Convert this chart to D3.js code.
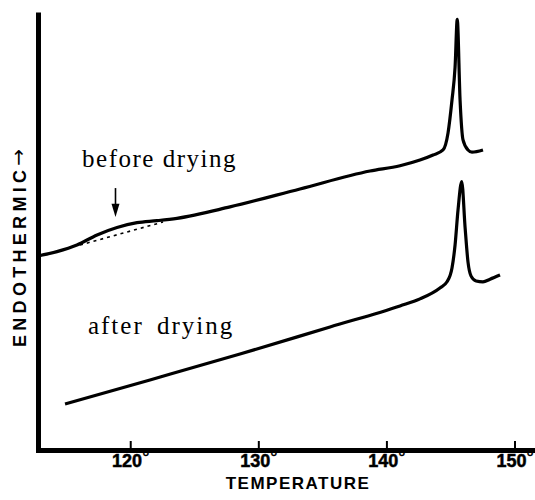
<!DOCTYPE html>
<html>
<head>
<meta charset="utf-8">
<script src="https://cdn.jsdelivr.net/npm/d3@7"></script>
<style>
  body { margin: 0; background: #fff; }
  .tick text { font-family: "Liberation Sans", Arial, sans-serif; font-size: 18px; font-weight: bold; }
</style>
</head>
<body>
<script>
// DSC traces, temperature in degrees C, endotherm in arbitrary units
const beforeTemp = [112.8, 114.28, 115.84, 117.41, 118.97, 120.53, 122.09, 123.65, 127.79, 133.25,
    138.72, 141.06, 142.62, 143.64, 144.42, 144.81, 145.12, 145.36, 145.53, 145.75,
    145.98, 146.37, 146.68, 147.54]
const beforeHeat = [44.3, 45.3, 46.8, 49.1, 50.8, 51.9, 52.35, 52.9, 55.5, 59.6,
    63.7, 64.9, 66.2, 67.35, 68.5, 72.4, 79.9, 87.4, 98.3, 79.9,
    70.8, 68.5, 68.0, 68.5]

// dotted baseline under the bump
const baseTemp = [116.08, 122.56]
const baseHeat = [46.8, 52.05]

const afterTemp = [114.91, 121.54, 128.57, 135.6, 141.06, 142.62, 144.18, 144.73, 145.12, 145.36,
    145.59, 145.88, 146.14, 146.37, 146.61, 147.0, 147.54, 148.09, 148.87]
const afterHeat = [10.5, 16.0, 21.9, 28.1, 32.9, 34.5, 37.0, 38.4, 41.55, 46.8,
    54.8, 61.3, 50.9, 42.9, 39.7, 38.6, 38.4, 39.0, 39.95]

const tickTemps = [120, 130, 140, 150]

// measurements
const m = {
    width: 535,
    height: 500,
    left: 38,
    right: 535,
    top: 12,
    bottom: 450
}

const sans = '"Liberation Sans", Arial, sans-serif'
const serif = '"Liberation Serif", "Times New Roman", serif'

const svg = d3.select('body').append('svg')
    .attr('width', m.width)
    .attr('height', m.height)

const x = d3.scaleLinear()
    .domain([112.8, 151.6])
    .range([m.left, m.right])

const y = d3.scaleLinear()
    .domain([0, 100])
    .range([m.bottom, m.top])

// axes - thick lines, ticks point up into the plot
const xAxis = d3.axisBottom(x)
    .tickValues(tickTemps)
    .tickSizeInner(-9)
    .tickSizeOuter(0)
    .tickPadding(4)
    .tickFormat(d => d)

const gx = svg.append('g')
    .attr('transform', `translate(0,${y(0)})`)
    .call(xAxis)
    .attr('font-family', sans)
    .attr('font-size', 18)
    .attr('font-weight', 'bold')

gx.select('.domain')
    .attr('stroke', '#000')
    .attr('stroke-width', 5)
    .attr('stroke-linecap', 'square')
gx.selectAll('.tick line')
    .attr('stroke', '#000')
    .attr('stroke-width', 2)
gx.selectAll('.tick text')
    .attr('fill', '#000')
    .attr('stroke', '#000')
    .attr('stroke-width', 0.5)
    .append('tspan')
    .attr('dy', -4)
    .attr('stroke-width', 0.2)
    .text('°')

const gy = svg.append('g')
    .attr('transform', `translate(${m.left},0)`)
    .call(d3.axisLeft(y).ticks(0).tickSizeOuter(0))
gy.select('.domain')
    .attr('stroke', '#000')
    .attr('stroke-width', 5)

// traces
const line = d3.line()
    .x(d => x(d[0]))
    .y(d => y(d[1]))
    .curve(d3.curveMonotoneX)

svg.append('path')
    .datum(d3.zip(beforeTemp, beforeHeat))
    .attr('d', line)
    .attr('fill', 'none')
    .attr('stroke', '#000')
    .attr('stroke-width', 3.2)
    .attr('stroke-linejoin', 'round')

svg.append('path')
    .datum(d3.zip(baseTemp, baseHeat))
    .attr('d', line)
    .attr('fill', 'none')
    .attr('stroke', '#000')
    .attr('stroke-width', 1.6)
    .attr('stroke-dasharray', '3,4')

svg.append('path')
    .datum(d3.zip(afterTemp, afterHeat))
    .attr('d', line)
    .attr('fill', 'none')
    .attr('stroke', '#000')
    .attr('stroke-width', 3.2)
    .attr('stroke-linejoin', 'round')

// arrow pointing at the bump
const ax = x(118.85)
svg.append('line')
    .attr('x1', ax).attr('x2', ax)
    .attr('y1', y(59.8)).attr('y2', y(55.5))
    .attr('stroke', '#000')
    .attr('stroke-width', 1.6)
svg.append('path')
    .attr('d', `M${ax - 4},${y(56.2)}L${ax + 4},${y(56.2)}L${ax},${y(53.2)}Z`)
    .attr('fill', '#000')

// trace labels
svg.append('text')
    .attr('x', x(116.24))
    .attr('y', y(64.6))
    .style('font-family', serif)
    .style('font-size', '25px')
    .style('letter-spacing', '1.5px')
    .text('before drying')

svg.append('text')
    .attr('x', x(116.7))
    .attr('y', y(26.5))
    .style('font-family', serif)
    .style('font-size', '25px')
    .style('letter-spacing', '2px')
    .style('word-spacing', '5px')
    .text('after drying')

// axis titles
svg.append('text')
    .attr('x', 298)
    .attr('y', 489)
    .attr('text-anchor', 'middle')
    .style('font-family', sans)
    .style('font-weight', 'bold')
    .style('font-size', '17px')
    .style('letter-spacing', '1.5px')
    .text('TEMPERATURE')

const yt = svg.append('text')
    .attr('transform', `translate(26,347)rotate(-90)`)
    .style('font-family', sans)
    .style('font-weight', 'bold')
    .style('font-size', '18px')
    .style('letter-spacing', '4.3px')
    .text('ENDOTHERMIC')
yt.append('tspan')
    .attr('dy', -1)
    .style('font-family', '"DejaVu Sans", sans-serif')
    .style('font-weight', 'normal')
    .style('font-size', '20px')
    .style('letter-spacing', '0px')
    .text('→')
</script>
</body>
</html>
